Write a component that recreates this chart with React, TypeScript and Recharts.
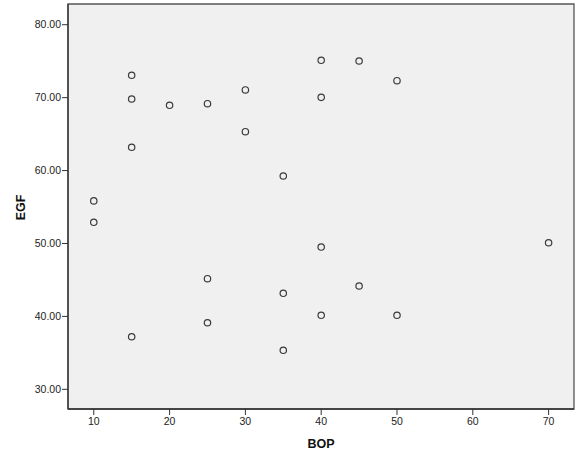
import { ScatterChart, Scatter, XAxis, YAxis, CartesianGrid, ReferenceArea } from "recharts";

// BOP (x) and EGF (y) for each case
const bop = [15, 15, 20, 25, 30, 40, 45, 50, 40, 30, 15, 35, 10, 10, 40, 70, 25, 35, 45, 15, 25, 40, 50, 35];
const egf = [
  73.06, 69.81, 68.95, 69.17, 71.05, 75.12, 75.02, 72.32, 70.04, 65.33, 63.19, 59.25,
  55.84, 52.9, 49.51, 50.1, 45.17, 43.17, 44.17, 37.21, 39.13, 40.15, 40.15, 35.35,
];
const xTicks = [10, 20, 30, 40, 50, 60, 70];
const yTicks = [30, 40, 50, 60, 70, 80];

const points = bop.map((b, i) => ({ bop: b, egf: egf[i] }));

const X_DOMAIN: [number, number] = [6.6, 73.35];
const Y_DOMAIN: [number, number] = [27.3, 82.84];
const FONT = "Arial, 'Liberation Sans', sans-serif";

// eslint-disable-next-line @typescript-eslint/no-explicit-any
function RingDot(props: any) {
  const { cx, cy } = props;
  if (cx == null || cy == null) return null;
  return <circle cx={cx} cy={cy} r={3.2} fill="none" stroke="#3a3a3a" strokeWidth={1.2} />;
}

// eslint-disable-next-line @typescript-eslint/no-explicit-any
function XTitle({ viewBox }: any) {
  const { x, y, width } = viewBox;
  return (
    <text x={x + width / 2} y={y + 39} textAnchor="middle" fontFamily={FONT} fontWeight="bold" fontSize={12.5} fill="#111">
      BOP
    </text>
  );
}

// eslint-disable-next-line @typescript-eslint/no-explicit-any
function YTitle({ viewBox }: any) {
  const { y, height } = viewBox;
  const cx = 24.5;
  const cy = y + height / 2 + 1;
  return (
    <text
      x={cx}
      y={cy}
      textAnchor="middle"
      transform={`rotate(-90 ${cx} ${cy})`}
      fontFamily={FONT}
      fontWeight="bold"
      fontSize={12.5}
      fill="#111"
    >
      EGF
    </text>
  );
}

export default function App() {
  const tick = { fontSize: 10.5, fill: "#222", fontFamily: FONT };
  return (
    <div style={{ position: "absolute", left: 0, top: 0, width: 580, height: 464, background: "#fff" }}>
      <ScatterChart width={580} height={464} margin={{ top: 4, right: 6, bottom: 0, left: 0 }}>
        <CartesianGrid horizontal={false} vertical={false} fill="#f0f0f0" />
        <ReferenceArea
          x1={X_DOMAIN[0]}
          x2={X_DOMAIN[1]}
          y1={Y_DOMAIN[0]}
          y2={Y_DOMAIN[1]}
          fill="none"
          fillOpacity={0}
          stroke="#555"
          strokeWidth={1.3}
        />
        <XAxis
          type="number"
          dataKey="bop"
          domain={X_DOMAIN}
          ticks={xTicks}
          height={55}
          tickSize={6}
          tickMargin={3}
          tick={tick}
          axisLine={{ stroke: "#333", strokeWidth: 1.3 }}
          tickLine={{ stroke: "#333" }}
          allowDataOverflow
          label={<XTitle />}
        />
        <YAxis
          type="number"
          dataKey="egf"
          domain={Y_DOMAIN}
          ticks={yTicks}
          width={68}
          tickSize={6}
          tickMargin={1}
          tick={tick}
          tickFormatter={(v: number) => v.toFixed(2)}
          axisLine={{ stroke: "#333", strokeWidth: 1.3 }}
          tickLine={{ stroke: "#333" }}
          allowDataOverflow
          label={<YTitle />}
        />
        <Scatter data={points} shape={RingDot} isAnimationActive={false} />
      </ScatterChart>
    </div>
  );
}
